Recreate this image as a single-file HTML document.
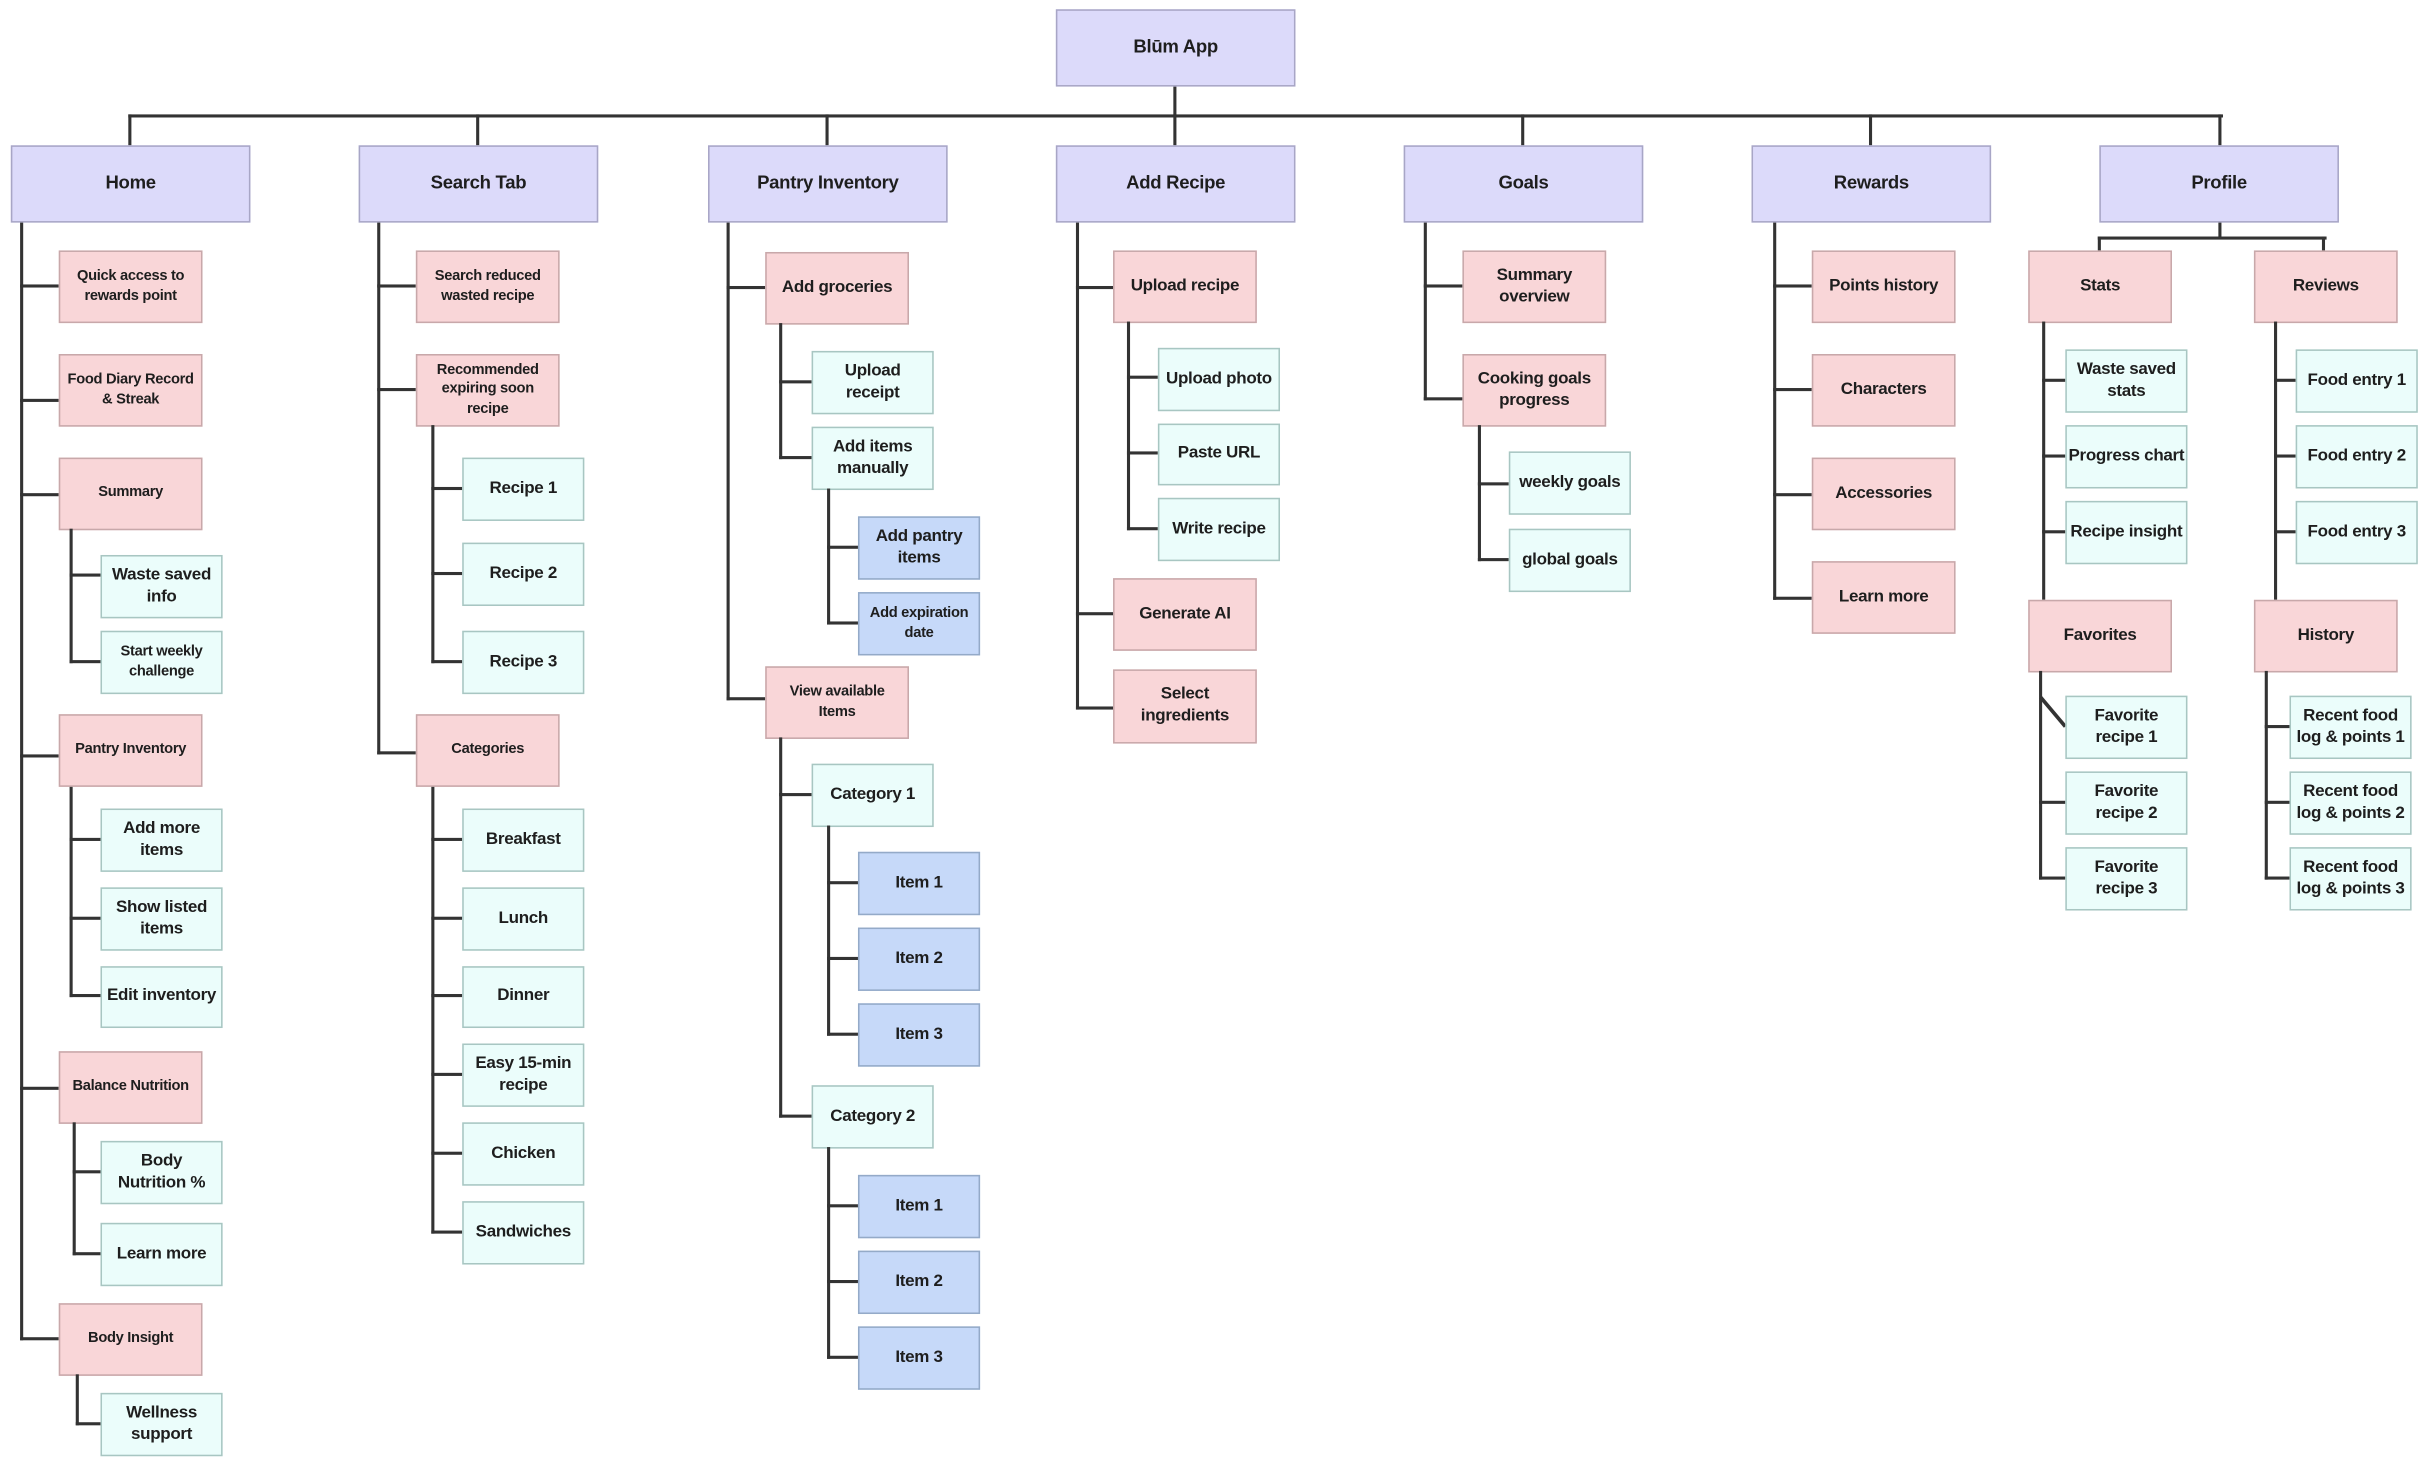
<!DOCTYPE html>
<html><head><meta charset="utf-8"><style>
html,body{margin:0;padding:0;background:#fff;width:2424px;height:1467px;overflow:hidden}
#s{position:absolute;left:0;top:0;width:1568px;height:949px;transform:scale(1.5459);transform-origin:0 0;font-family:"Liberation Sans",sans-serif;font-weight:bold;color:#1e1e1e}
.b{position:absolute;box-sizing:border-box;display:flex;align-items:center;justify-content:center;text-align:center;font-size:11px;line-height:1.27;letter-spacing:-0.2px}
.p{background:#dcdafa;border:1px solid #a8a6c6;font-size:12px}
.k{background:#f9d6d8;border:1px solid #c8a8aa}
.c{background:#ebfdfb;border:1px solid #a8c6c2}
.u{background:#c6d9f9;border:1px solid #94aac8}
.sm{font-size:9.5px}
.h{position:absolute;height:2.4px;background:#333}
.v{position:absolute;width:2.4px;background:#333}
</style></head><body><div id="s">
<!-- root lines -->
<div class="v" style="left:759px;top:56px;height:20px"></div>
<div class="h" style="left:83px;top:74px;width:1355px"></div>
<div class="v" style="left:83px;top:74px;height:20px"></div>
<div class="v" style="left:308px;top:74px;height:20px"></div>
<div class="v" style="left:534px;top:74px;height:20px"></div>
<div class="v" style="left:759px;top:74px;height:20px"></div>
<div class="v" style="left:984px;top:74px;height:20px"></div>
<div class="v" style="left:1209px;top:74px;height:20px"></div>
<div class="v" style="left:1435px;top:74px;height:20px"></div>

<div class="b p" style="left:683px;top:6px;width:155px;height:50px">Blūm App</div>
<div class="b p" style="left:7px;top:94px;width:155px;height:50px">Home</div>
<div class="b p" style="left:232px;top:94px;width:155px;height:50px">Search Tab</div>
<div class="b p" style="left:458px;top:94px;width:155px;height:50px">Pantry Inventory</div>
<div class="b p" style="left:683px;top:94px;width:155px;height:50px">Add Recipe</div>
<div class="b p" style="left:908px;top:94px;width:155px;height:50px">Goals</div>
<div class="b p" style="left:1133px;top:94px;width:155px;height:50px">Rewards</div>
<div class="b p" style="left:1358px;top:94px;width:155px;height:50px">Profile</div>

<!-- Home -->
<div class="v" style="left:13px;top:144px;height:723px"></div>
<div class="h" style="left:13px;top:184px;width:25px"></div>
<div class="h" style="left:13px;top:258px;width:25px"></div>
<div class="h" style="left:13px;top:319px;width:25px"></div>
<div class="h" style="left:13px;top:488px;width:25px"></div>
<div class="h" style="left:13px;top:703px;width:25px"></div>
<div class="h" style="left:13px;top:865px;width:25px"></div>
<div class="b k sm" style="left:38px;top:162px;width:93px;height:47px">Quick access to<br>rewards point</div>
<div class="b k sm" style="left:38px;top:229px;width:93px;height:47px">Food Diary Record<br>&amp; Streak</div>
<div class="b k sm" style="left:38px;top:296px;width:93px;height:47px">Summary</div>
<div class="v" style="left:45px;top:342px;height:87px"></div>
<div class="h" style="left:45px;top:371px;width:20px"></div>
<div class="h" style="left:45px;top:427px;width:20px"></div>
<div class="b c" style="left:65px;top:359px;width:79px;height:41px">Waste saved<br>info</div>
<div class="b c sm" style="left:65px;top:408px;width:79px;height:41px">Start weekly<br>challenge</div>
<div class="b k sm" style="left:38px;top:462px;width:93px;height:47px">Pantry Inventory</div>
<div class="v" style="left:45px;top:509px;height:136px"></div>
<div class="h" style="left:45px;top:542px;width:20px"></div>
<div class="h" style="left:45px;top:593px;width:20px"></div>
<div class="h" style="left:45px;top:643px;width:20px"></div>
<div class="b c" style="left:65px;top:523px;width:79px;height:41px">Add more<br>items</div>
<div class="b c" style="left:65px;top:574px;width:79px;height:41px">Show listed<br>items</div>
<div class="b c" style="left:65px;top:625px;width:79px;height:40px">Edit inventory</div>
<div class="b k sm" style="left:38px;top:680px;width:93px;height:47px">Balance Nutrition</div>
<div class="v" style="left:47px;top:726px;height:86px"></div>
<div class="h" style="left:47px;top:757px;width:18px"></div>
<div class="h" style="left:47px;top:810px;width:18px"></div>
<div class="b c" style="left:65px;top:738px;width:79px;height:41px">Body<br>Nutrition %</div>
<div class="b c" style="left:65px;top:791px;width:79px;height:41px">Learn more</div>
<div class="b k sm" style="left:38px;top:843px;width:93px;height:47px">Body Insight</div>
<div class="v" style="left:49px;top:889px;height:33px"></div>
<div class="h" style="left:49px;top:920px;width:16px"></div>
<div class="b c" style="left:65px;top:901px;width:79px;height:41px">Wellness<br>support</div>

<!-- Search -->
<div class="v" style="left:244px;top:144px;height:344px"></div>
<div class="h" style="left:244px;top:184px;width:25px"></div>
<div class="h" style="left:244px;top:251px;width:25px"></div>
<div class="h" style="left:244px;top:486px;width:25px"></div>
<div class="b k sm" style="left:269px;top:162px;width:93px;height:47px">Search reduced<br>wasted recipe</div>
<div class="b k sm" style="left:269px;top:229px;width:93px;height:47px">Recommended<br>expiring soon<br>recipe</div>
<div class="v" style="left:279px;top:275px;height:154px"></div>
<div class="h" style="left:279px;top:315px;width:20px"></div>
<div class="h" style="left:279px;top:370px;width:20px"></div>
<div class="h" style="left:279px;top:427px;width:20px"></div>
<div class="b c" style="left:299px;top:296px;width:79px;height:41px">Recipe 1</div>
<div class="b c" style="left:299px;top:351px;width:79px;height:41px">Recipe 2</div>
<div class="b c" style="left:299px;top:408px;width:79px;height:41px">Recipe 3</div>
<div class="b k sm" style="left:269px;top:462px;width:93px;height:47px">Categories</div>
<div class="v" style="left:279px;top:509px;height:289px"></div>
<div class="h" style="left:279px;top:542px;width:20px"></div>
<div class="h" style="left:279px;top:593px;width:20px"></div>
<div class="h" style="left:279px;top:643px;width:20px"></div>
<div class="h" style="left:279px;top:694px;width:20px"></div>
<div class="h" style="left:279px;top:745px;width:20px"></div>
<div class="h" style="left:279px;top:796px;width:20px"></div>
<div class="b c" style="left:299px;top:523px;width:79px;height:41px">Breakfast</div>
<div class="b c" style="left:299px;top:574px;width:79px;height:41px">Lunch</div>
<div class="b c" style="left:299px;top:625px;width:79px;height:40px">Dinner</div>
<div class="b c" style="left:299px;top:675px;width:79px;height:41px">Easy 15-min<br>recipe</div>
<div class="b c" style="left:299px;top:726px;width:79px;height:41px">Chicken</div>
<div class="b c" style="left:299px;top:777px;width:79px;height:41px">Sandwiches</div>

<!-- Pantry -->
<div class="v" style="left:470px;top:144px;height:309px"></div>
<div class="h" style="left:470px;top:185px;width:25px"></div>
<div class="h" style="left:470px;top:451px;width:25px"></div>
<div class="b k" style="left:495px;top:163px;width:93px;height:47px">Add groceries</div>
<div class="v" style="left:504px;top:209px;height:88px"></div>
<div class="h" style="left:504px;top:246px;width:21px"></div>
<div class="h" style="left:504px;top:295px;width:21px"></div>
<div class="b c" style="left:525px;top:227px;width:79px;height:41px">Upload<br>receipt</div>
<div class="b c" style="left:525px;top:276px;width:79px;height:41px">Add items<br>manually</div>
<div class="v" style="left:535px;top:316px;height:88px"></div>
<div class="h" style="left:535px;top:353px;width:20px"></div>
<div class="h" style="left:535px;top:402px;width:20px"></div>
<div class="b u" style="left:555px;top:334px;width:79px;height:41px">Add pantry<br>items</div>
<div class="b u sm" style="left:555px;top:383px;width:79px;height:41px">Add expiration<br>date</div>
<div class="b k sm" style="left:495px;top:431px;width:93px;height:47px">View available<br>Items</div>
<div class="v" style="left:504px;top:477px;height:246px"></div>
<div class="h" style="left:504px;top:513px;width:21px"></div>
<div class="h" style="left:504px;top:721px;width:21px"></div>
<div class="b c" style="left:525px;top:494px;width:79px;height:41px">Category 1</div>
<div class="b c" style="left:525px;top:702px;width:79px;height:41px">Category 2</div>
<div class="v" style="left:535px;top:534px;height:136px"></div>
<div class="h" style="left:535px;top:570px;width:20px"></div>
<div class="h" style="left:535px;top:619px;width:20px"></div>
<div class="h" style="left:535px;top:668px;width:20px"></div>
<div class="b u" style="left:555px;top:551px;width:79px;height:41px">Item 1</div>
<div class="b u" style="left:555px;top:600px;width:79px;height:41px">Item 2</div>
<div class="b u" style="left:555px;top:649px;width:79px;height:41px">Item 3</div>
<div class="v" style="left:535px;top:742px;height:137px"></div>
<div class="h" style="left:535px;top:779px;width:20px"></div>
<div class="h" style="left:535px;top:828px;width:20px"></div>
<div class="h" style="left:535px;top:877px;width:20px"></div>
<div class="b u" style="left:555px;top:760px;width:79px;height:41px">Item 1</div>
<div class="b u" style="left:555px;top:809px;width:79px;height:41px">Item 2</div>
<div class="b u" style="left:555px;top:858px;width:79px;height:41px">Item 3</div>

<!-- Add Recipe -->
<div class="v" style="left:696px;top:144px;height:315px"></div>
<div class="h" style="left:696px;top:185px;width:24px"></div>
<div class="h" style="left:696px;top:396px;width:24px"></div>
<div class="h" style="left:696px;top:457px;width:24px"></div>
<div class="b k" style="left:720px;top:162px;width:93px;height:47px">Upload recipe</div>
<div class="v" style="left:729px;top:208px;height:135px"></div>
<div class="h" style="left:729px;top:243px;width:20px"></div>
<div class="h" style="left:729px;top:292px;width:20px"></div>
<div class="h" style="left:729px;top:341px;width:20px"></div>
<div class="b c" style="left:749px;top:225px;width:79px;height:41px">Upload photo</div>
<div class="b c" style="left:749px;top:274px;width:79px;height:40px">Paste URL</div>
<div class="b c" style="left:749px;top:322px;width:79px;height:41px">Write recipe</div>
<div class="b k" style="left:720px;top:374px;width:93px;height:47px">Generate AI</div>
<div class="b k" style="left:720px;top:433px;width:93px;height:48px">Select<br>ingredients</div>

<!-- Goals -->
<div class="v" style="left:921px;top:144px;height:115px"></div>
<div class="h" style="left:921px;top:184px;width:25px"></div>
<div class="h" style="left:921px;top:257px;width:25px"></div>
<div class="b k" style="left:946px;top:162px;width:93px;height:47px">Summary<br>overview</div>
<div class="b k" style="left:946px;top:229px;width:93px;height:47px">Cooking goals<br>progress</div>
<div class="v" style="left:956px;top:275px;height:88px"></div>
<div class="h" style="left:956px;top:312px;width:20px"></div>
<div class="h" style="left:956px;top:361px;width:20px"></div>
<div class="b c" style="left:976px;top:292px;width:79px;height:41px">weekly goals</div>
<div class="b c" style="left:976px;top:342px;width:79px;height:41px">global goals</div>

<!-- Rewards -->
<div class="v" style="left:1147px;top:144px;height:244px"></div>
<div class="h" style="left:1147px;top:184px;width:25px"></div>
<div class="h" style="left:1147px;top:251px;width:25px"></div>
<div class="h" style="left:1147px;top:319px;width:25px"></div>
<div class="h" style="left:1147px;top:386px;width:25px"></div>
<div class="b k" style="left:1172px;top:162px;width:93px;height:47px">Points history</div>
<div class="b k" style="left:1172px;top:229px;width:93px;height:47px">Characters</div>
<div class="b k" style="left:1172px;top:296px;width:93px;height:47px">Accessories</div>
<div class="b k" style="left:1172px;top:363px;width:93px;height:47px">Learn more</div>

<!-- Profile -->
<div class="v" style="left:1435px;top:144px;height:10px"></div>
<div class="h" style="left:1357px;top:153px;width:148px"></div>
<div class="v" style="left:1357px;top:153px;height:9px"></div>
<div class="v" style="left:1502px;top:153px;height:9px"></div>
<div class="b k" style="left:1312px;top:162px;width:93px;height:47px">Stats</div>
<div class="b k" style="left:1458px;top:162px;width:93px;height:47px">Reviews</div>
<div class="v" style="left:1321px;top:208px;height:180px"></div>
<div class="h" style="left:1321px;top:245px;width:15px"></div>
<div class="h" style="left:1321px;top:294px;width:15px"></div>
<div class="h" style="left:1321px;top:343px;width:15px"></div>
<div class="b c" style="left:1336px;top:226px;width:79px;height:41px">Waste saved<br>stats</div>
<div class="b c" style="left:1336px;top:275px;width:79px;height:41px">Progress chart</div>
<div class="b c" style="left:1336px;top:324px;width:79px;height:41px">Recipe insight</div>
<div class="v" style="left:1471px;top:208px;height:180px"></div>
<div class="h" style="left:1471px;top:245px;width:14px"></div>
<div class="h" style="left:1471px;top:294px;width:14px"></div>
<div class="h" style="left:1471px;top:343px;width:14px"></div>
<div class="b c" style="left:1485px;top:226px;width:79px;height:41px">Food entry 1</div>
<div class="b c" style="left:1485px;top:275px;width:79px;height:41px">Food entry 2</div>
<div class="b c" style="left:1485px;top:324px;width:79px;height:41px">Food entry 3</div>
<div class="b k" style="left:1312px;top:388px;width:93px;height:47px">Favorites</div>
<div class="b k" style="left:1458px;top:388px;width:93px;height:47px">History</div>
<div class="v" style="left:1319px;top:434px;height:135px"></div>
<svg style="position:absolute;left:1318px;top:448px" width="22" height="26"><line x1="2" y1="3" x2="18" y2="22" stroke="#333" stroke-width="2.4"/></svg>
<div class="h" style="left:1319px;top:518px;width:17px"></div>
<div class="h" style="left:1319px;top:567px;width:17px"></div>
<div class="b c" style="left:1336px;top:450px;width:79px;height:41px">Favorite<br>recipe 1</div>
<div class="b c" style="left:1336px;top:499px;width:79px;height:41px">Favorite<br>recipe 2</div>
<div class="b c" style="left:1336px;top:548px;width:79px;height:41px">Favorite<br>recipe 3</div>
<div class="v" style="left:1465px;top:434px;height:135px"></div>
<div class="h" style="left:1465px;top:469px;width:16px"></div>
<div class="h" style="left:1465px;top:518px;width:16px"></div>
<div class="h" style="left:1465px;top:567px;width:16px"></div>
<div class="b c" style="left:1481px;top:450px;width:79px;height:41px">Recent food<br>log &amp; points 1</div>
<div class="b c" style="left:1481px;top:499px;width:79px;height:41px">Recent food<br>log &amp; points 2</div>
<div class="b c" style="left:1481px;top:548px;width:79px;height:41px">Recent food<br>log &amp; points 3</div>
</div></body></html>
